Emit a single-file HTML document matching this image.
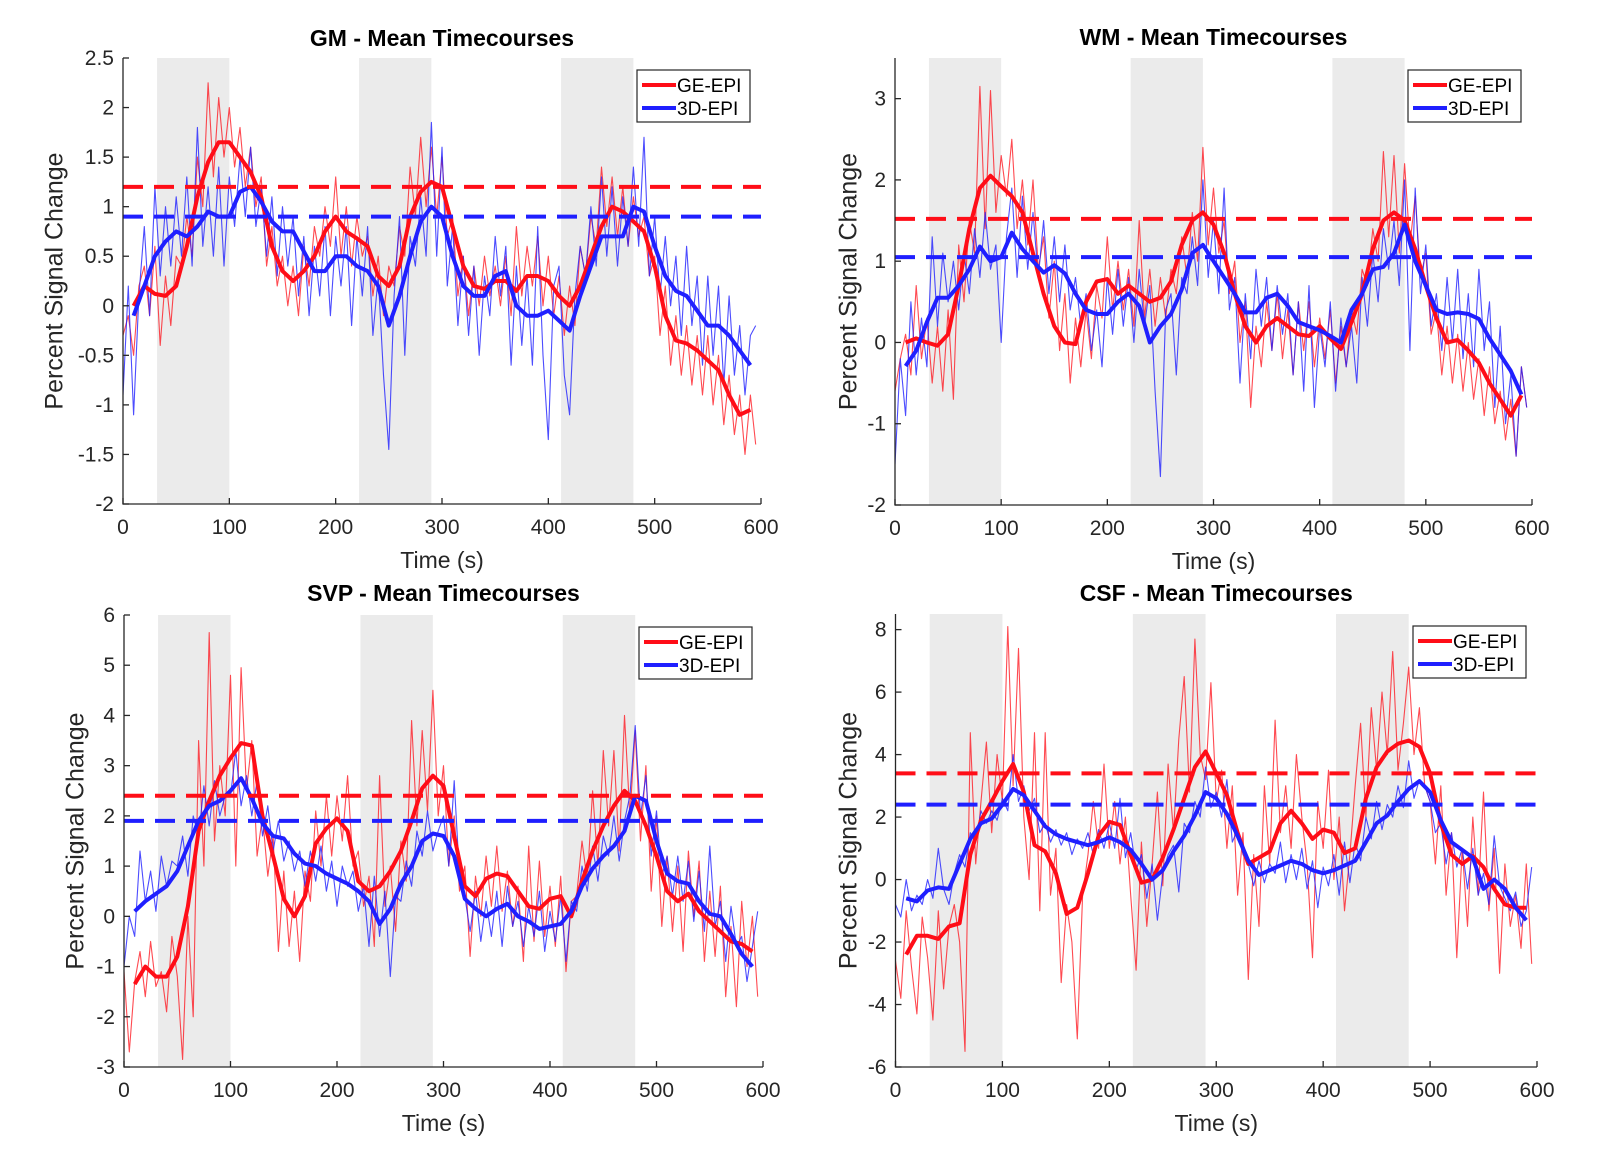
<!DOCTYPE html>
<html><head><meta charset="utf-8"><style>
html,body{margin:0;padding:0;background:#fff;}
svg{display:block;font-family:"Liberation Sans",sans-serif;}
</style></head><body>
<svg id="fig" width="1620" height="1153" viewBox="0 0 1620 1153" xmlns="http://www.w3.org/2000/svg"></svg>
<script>
// ---- shared time axes ----
const thickTimes = [10,20,30,40,50,60,70,80,90,100,110,120,130,140,150,160,170,180,190,200,210,220,230,240,250,260,270,280,290,300,310,320,330,340,350,360,370,380,390,400,410,420,430,440,450,460,470,480,490,500,510,520,530,540,550,560,570,580,590];
const xTickLabels = [0,100,200,300,400,500,600];
const blockStarts = [32,222,412];
const blockEnds = [100,290,480];

// ---- GM ----
const gmRedThin = [-0.3,-0.1,-0.5,0.2,0.4,-0.1,0.6,-0.4,0.3,-0.2,0.5,0.4,0.9,0.5,1.5,1.0,2.25,1.3,2.1,1.5,2.0,1.4,1.8,1.2,1.6,1.0,1.3,0.4,0.8,0.2,0.5,0.0,0.4,-0.1,0.6,0.2,0.8,0.5,1.0,0.6,1.3,0.5,1.0,0.4,0.9,0.5,0.7,0.1,0.5,-0.1,0.4,0.2,0.8,0.5,1.4,0.9,1.7,1.0,1.6,0.9,1.5,0.7,0.9,0.1,0.5,-0.1,0.4,0.0,0.5,0.1,0.4,0.0,0.5,-0.1,0.8,0.1,0.6,0.2,0.7,0.0,0.5,-0.1,0.3,-0.3,0.2,-0.2,0.6,0.3,0.9,0.6,1.4,0.8,1.3,0.7,1.2,0.6,1.1,0.7,0.9,0.3,0.5,-0.3,0.2,-0.6,-0.1,-0.7,-0.2,-0.8,-0.3,-0.9,-0.3,-1.0,-0.5,-1.2,-0.7,-1.3,-0.9,-1.5,-0.9,-1.4];
const gmBlueThin = [-0.9,0.2,-1.1,0.1,0.8,-0.1,1.2,0.3,1.0,0.4,1.1,0.5,1.3,0.4,1.8,0.6,1.2,0.5,1.4,0.4,1.3,0.8,1.5,0.9,1.6,0.8,1.2,0.5,1.1,0.3,1.0,0.4,0.9,0.1,0.7,-0.1,0.6,0.1,0.8,-0.1,0.7,0.2,0.8,-0.2,0.7,0.1,0.8,-0.3,0.3,-0.7,-1.45,0.1,0.9,-0.5,0.7,0.4,1.1,0.5,1.85,0.5,1.6,0.2,0.8,-0.2,0.5,-0.3,0.4,-0.5,0.3,-0.1,0.7,0.1,0.6,-0.6,0.4,-0.4,0.3,-0.6,0.8,-0.5,-1.35,0.2,0.4,-0.7,-1.1,0.1,0.6,0.3,1.0,0.4,1.3,0.5,1.2,0.4,1.1,0.6,1.4,0.6,1.7,0.3,0.9,0.1,0.7,0.0,0.5,-0.3,0.6,-0.2,0.3,-0.6,0.3,-0.5,0.2,-0.8,0.1,-0.7,-0.2,-0.9,-0.3,-0.2];
const gmRedThick = [0.0,0.2,0.12,0.1,0.2,0.6,1.1,1.45,1.65,1.65,1.5,1.35,1.1,0.6,0.35,0.25,0.35,0.5,0.75,0.9,0.75,0.68,0.6,0.3,0.2,0.4,0.9,1.15,1.25,1.2,0.8,0.4,0.2,0.17,0.25,0.25,0.15,0.3,0.3,0.25,0.1,0.0,0.2,0.5,0.8,1.0,0.95,0.85,0.75,0.4,-0.1,-0.35,-0.38,-0.45,-0.55,-0.65,-0.9,-1.1,-1.05];
const gmBlueThick = [-0.1,0.2,0.5,0.65,0.75,0.7,0.8,0.95,0.9,0.9,1.15,1.2,1.05,0.85,0.75,0.75,0.55,0.35,0.35,0.5,0.5,0.4,0.35,0.2,-0.2,0.1,0.5,0.85,1.0,0.9,0.5,0.2,0.1,0.1,0.3,0.35,0.0,-0.1,-0.1,-0.05,-0.15,-0.25,0.1,0.4,0.7,0.7,0.7,1.0,0.95,0.6,0.3,0.15,0.1,-0.05,-0.2,-0.2,-0.3,-0.45,-0.6];
const gmYTicks = [-2,-1.5,-1,-0.5,0,0.5,1,1.5,2,2.5];
const gmMeans = [1.2,0.9];

// ---- WM ----
const wmRedThin = [-0.6,-0.2,0.1,-0.4,0.7,-0.2,0.3,-0.5,0.2,-0.6,0.4,-0.7,1.2,0.5,1.5,1.1,3.15,1.4,3.1,1.6,2.3,1.8,2.5,1.4,2.0,1.2,2.0,0.9,1.3,0.3,1.0,-0.1,0.6,-0.5,0.3,-0.3,0.4,-0.2,0.7,0.3,1.3,0.4,1.0,0.4,0.9,0.2,1.5,0.3,0.9,0.2,0.8,0.3,0.9,0.6,1.3,0.8,1.6,1.0,2.4,1.2,1.9,1.1,1.5,0.6,1.0,0.0,0.5,-0.8,0.2,-0.3,0.5,-0.1,0.6,-0.2,0.4,-0.4,0.5,-0.1,0.5,-0.3,0.3,-0.2,0.4,-0.5,0.2,-0.3,0.4,0.1,0.9,0.7,1.4,1.0,2.35,1.3,2.3,1.1,2.2,1.2,1.8,0.8,1.1,0.1,0.4,-0.4,0.2,-0.5,0.1,-0.6,0.0,-0.7,-0.2,-0.9,-0.3,-1.0,-0.6,-1.2,-0.7,-1.4,-0.3,-0.8];
const wmBlueThin = [-1.5,-0.2,-0.9,0.5,-0.4,0.3,-0.3,1.3,0.2,1.1,0.5,1.0,0.4,1.1,0.6,1.4,0.8,1.6,0.9,1.2,0.0,1.3,1.9,0.8,1.8,0.9,1.6,0.8,1.5,0.6,1.3,0.5,1.2,0.4,0.8,0.2,0.6,-0.1,0.4,-0.3,0.8,0.1,0.9,0.2,0.8,0.0,0.9,0.2,0.7,-0.6,-1.65,0.4,0.6,-0.4,0.8,0.6,1.3,0.7,2.0,0.8,1.5,0.6,1.9,0.4,0.8,-0.5,0.6,-0.2,0.9,0.2,0.8,-0.1,0.7,0.1,0.6,-0.4,0.5,-0.6,0.7,-0.8,0.2,-0.3,0.5,-0.6,0.3,-0.3,0.2,-0.5,0.8,0.2,1.1,0.5,1.4,0.9,1.5,0.7,2.0,-0.1,1.9,0.6,1.2,0.2,0.6,-0.1,0.8,0.0,0.9,-0.2,0.6,-0.3,0.9,-0.1,0.5,-0.8,0.2,-1.0,-0.4,-1.4,-0.3,-0.8];
const wmRedThick = [0.0,0.05,0.0,-0.04,0.1,0.7,1.4,1.9,2.05,1.92,1.8,1.6,1.1,0.6,0.2,0.0,-0.02,0.5,0.75,0.78,0.6,0.7,0.6,0.5,0.55,0.75,1.2,1.5,1.6,1.45,1.1,0.6,0.2,0.0,0.2,0.3,0.2,0.1,0.08,0.2,0.05,-0.08,0.25,0.6,1.15,1.5,1.6,1.5,1.15,0.7,0.3,0.0,0.03,-0.1,-0.25,-0.5,-0.7,-0.9,-0.65];
const wmBlueThick = [-0.29,-0.1,0.25,0.55,0.55,0.7,0.9,1.18,1.0,1.05,1.35,1.15,1.0,0.86,0.95,0.85,0.6,0.4,0.35,0.35,0.5,0.6,0.45,0.0,0.2,0.35,0.65,1.1,1.2,1.0,0.8,0.6,0.37,0.37,0.55,0.6,0.45,0.25,0.2,0.15,0.08,0.0,0.4,0.6,0.9,0.93,1.1,1.45,1.0,0.7,0.4,0.35,0.37,0.35,0.29,0.05,-0.15,-0.35,-0.64];
const wmYTicks = [-2,-1,0,1,2,3];
const wmMeans = [1.52,1.05];

// ---- SVP ----
const svpRedThin = [-1.1,-2.7,-1.3,-0.7,-1.6,-0.5,-1.4,-1.1,-1.9,-0.4,-1.2,-2.85,0.0,-2.0,3.5,1.0,5.65,1.5,3.0,2.0,4.8,1.0,4.95,2.5,3.5,1.2,2.0,0.8,1.6,-0.7,0.9,-0.6,0.5,-0.9,0.9,0.3,2.1,1.0,2.4,1.2,2.4,1.5,2.8,1.0,1.3,0.2,0.8,-0.6,2.8,0.2,1.0,-0.3,1.5,0.7,3.9,1.8,3.7,2.1,4.5,2.0,3.0,1.0,2.0,0.5,1.0,-0.8,0.8,0.0,1.2,0.2,1.4,0.1,0.9,-0.2,0.6,-0.9,1.4,-0.5,1.1,-0.4,0.6,-0.6,0.8,-1.1,0.3,0.4,1.5,0.7,2.5,1.0,3.3,1.8,3.3,1.3,4.0,2.0,3.7,1.5,3.0,0.5,2.0,-0.2,1.2,-0.3,1.0,-0.7,1.3,0.0,1.1,-0.9,0.5,-0.8,0.6,-1.6,-0.2,-1.8,0.3,-1.0,0.0,-1.6];
const svpBlueThin = [-1.0,0.0,-0.4,1.3,0.3,0.9,0.1,1.2,0.6,1.1,1.0,1.6,0.8,2.0,1.6,2.6,1.8,2.7,2.0,2.4,2.4,3.3,2.2,2.8,2.0,2.7,1.6,2.2,1.3,1.9,1.1,1.5,0.9,1.3,0.6,1.3,0.7,1.4,0.5,1.1,0.2,1.0,0.6,0.9,0.1,0.6,-0.6,0.8,-0.4,0.5,-1.2,0.4,0.3,1.1,0.6,1.7,1.2,2.1,1.3,1.7,2.0,1.0,2.7,0.8,0.4,-0.3,0.5,-0.5,0.3,-0.4,0.5,-0.6,0.6,-0.2,0.3,-0.6,0.2,-0.4,0.5,-0.7,0.1,-0.5,0.4,-0.9,0.3,0.1,1.0,0.5,1.4,0.7,1.6,1.2,2.0,1.1,1.9,2.4,3.8,2.0,2.8,1.2,2.1,0.8,1.2,0.4,1.2,0.3,1.1,-0.1,0.9,-0.3,1.4,-0.2,0.3,-0.9,0.2,-0.6,-0.4,-1.3,-0.6,0.1];
const svpRedThick = [-1.35,-1.0,-1.2,-1.2,-0.8,0.2,1.7,2.3,2.8,3.15,3.45,3.4,2.0,1.2,0.35,0.0,0.4,1.45,1.75,1.95,1.7,0.7,0.5,0.6,0.9,1.3,1.9,2.55,2.8,2.6,1.6,0.6,0.4,0.75,0.85,0.8,0.5,0.2,0.15,0.35,0.4,0.0,0.7,1.3,1.8,2.2,2.5,2.3,1.8,1.2,0.5,0.3,0.45,0.1,-0.1,-0.3,-0.5,-0.55,-0.7];
const svpBlueThick = [0.1,0.3,0.45,0.6,0.9,1.4,1.9,2.2,2.3,2.5,2.75,2.35,1.85,1.6,1.55,1.25,1.05,1.0,0.85,0.75,0.65,0.5,0.3,-0.15,0.15,0.65,1.0,1.5,1.65,1.6,1.2,0.35,0.15,0.0,0.15,0.25,0.0,-0.1,-0.25,-0.2,-0.15,0.1,0.6,0.95,1.2,1.4,1.7,2.4,2.3,1.5,0.85,0.7,0.65,0.3,0.05,0.0,-0.35,-0.75,-1.0];
const svpYTicks = [-3,-2,-1,0,1,2,3,4,5,6];
const svpMeans = [2.4,1.9];

// ---- CSF ----
const csfRedThin = [-2.6,-3.8,-1.0,-2.8,-4.3,-1.2,-2.5,-4.5,-1.0,-3.5,-1.5,-0.8,-2.0,-5.5,4.7,0.5,2.5,4.4,1.5,4.0,2.5,8.1,3.0,7.4,2.0,0.0,4.7,-1.0,4.7,-0.5,1.0,-3.3,-0.8,-2.0,-5.1,-0.5,0.8,2.5,1.0,3.7,1.0,2.5,0.5,2.0,-0.5,-2.9,1.2,-1.5,0.5,2.8,-0.2,3.7,1.5,4.5,6.5,2.8,7.7,4.0,3.2,6.3,2.5,3.5,1.0,3.0,-0.5,1.5,-3.2,0.8,-1.5,3.0,0.5,5.1,1.5,3.0,1.0,4.0,2.0,0.5,-2.5,2.5,1.0,3.5,0.0,2.0,-1.0,0.8,3.0,5.0,2.0,5.5,3.5,6.0,4.0,7.3,3.5,5.0,6.8,4.0,5.5,3.0,2.5,0.5,3.0,-0.5,1.5,-2.5,1.0,-1.5,2.0,-0.5,2.8,-1.0,1.0,-3.0,0.5,-1.5,-0.5,-2.2,0.5,-2.7];
const csfBlueThin = [-0.8,-1.2,0.0,-1.0,-0.5,-0.8,0.0,-0.6,1.0,-0.3,-0.8,0.2,0.8,0.4,1.5,1.2,2.2,1.8,2.2,1.9,2.6,2.2,4.0,2.5,3.0,2.2,2.6,1.5,1.8,1.2,1.6,1.1,1.5,0.8,1.3,1.0,1.5,0.8,1.6,1.0,1.8,1.0,2.6,0.7,1.5,0.3,0.8,-0.6,0.5,-1.3,0.2,0.8,1.1,-0.4,1.8,1.5,2.5,2.0,3.6,2.3,2.8,2.0,3.2,1.2,1.6,0.8,0.5,-0.2,0.6,-0.1,0.5,0.2,1.2,-0.1,0.8,0.0,1.0,-0.3,0.6,-0.9,0.4,-0.2,0.8,-0.5,1.2,-0.1,1.2,0.6,2.0,1.3,2.5,1.6,2.4,2.0,3.0,2.3,3.8,2.6,3.2,3.0,2.5,1.5,1.8,0.5,1.5,0.4,1.0,-0.3,1.0,-0.5,0.2,-0.8,1.4,-0.2,-0.6,-1.0,-0.4,-1.5,-1.0,0.4];
const csfRedThick = [-2.4,-1.8,-1.8,-1.9,-1.5,-1.4,0.8,1.9,2.5,3.15,3.7,2.8,1.1,0.9,0.2,-1.1,-0.9,0.2,1.4,1.85,1.75,0.8,-0.1,0.0,0.7,1.6,2.6,3.6,4.1,3.4,2.7,1.5,0.5,0.7,0.9,1.8,2.2,1.8,1.3,1.6,1.5,0.85,1.0,2.6,3.6,4.1,4.35,4.45,4.25,3.4,1.8,0.8,0.5,0.75,0.4,-0.3,-0.8,-0.9,-0.9];
const csfBlueThick = [-0.6,-0.7,-0.35,-0.25,-0.3,0.5,1.3,1.8,1.95,2.4,2.9,2.7,2.2,1.7,1.45,1.3,1.2,1.1,1.2,1.35,1.2,0.95,0.5,0.0,0.3,0.9,1.4,2.05,2.8,2.6,2.1,1.4,0.6,0.15,0.3,0.45,0.6,0.5,0.3,0.2,0.3,0.45,0.6,1.2,1.8,2.05,2.5,2.9,3.15,2.8,1.9,1.2,0.95,0.7,-0.3,0.0,-0.3,-0.9,-1.3];
const csfYTicks = [-6,-4,-2,0,2,4,6,8];
const csfMeans = [3.4,2.4];

const RED = '#ff0d17', BLUE = '#1f1fff';
const NS = 'http://www.w3.org/2000/svg';
const svg = document.getElementById('fig');
function mk(tag, attrs, parent){ const e=document.createElementNS(NS,tag); for(const k in attrs) e.setAttribute(k,attrs[k]); (parent||svg).appendChild(e); return e; }

const panels = [
 {key:'gm', title:'GM - Mean Timecourses', x0:123, x1:761, yTop:58, yBot:504, ymin:-2, ymax:2.5, yticks:gmYTicks, rt:gmRedThin, bt:gmBlueThin, rk:gmRedThick, bk:gmBlueThick, means:gmMeans, titleY:46, ylabX:56},
 {key:'wm', title:'WM - Mean Timecourses', x0:895, x1:1532, yTop:58, yBot:505, ymin:-2, ymax:3.5, yticks:wmYTicks, rt:wmRedThin, bt:wmBlueThin, rk:wmRedThick, bk:wmBlueThick, means:wmMeans, titleY:45, ylabX:850},
 {key:'svp', title:'SVP - Mean Timecourses', x0:124, x1:763, yTop:615, yBot:1067, ymin:-3, ymax:6, yticks:svpYTicks, rt:svpRedThin, bt:svpBlueThin, rk:svpRedThick, bk:svpBlueThick, means:svpMeans, titleY:601, ylabX:77},
 {key:'csf', title:'CSF - Mean Timecourses', x0:895.5, x1:1537, yTop:614, yBot:1067, ymin:-6, ymax:8.5, yticks:csfYTicks, rt:csfRedThin, bt:csfBlueThin, rk:csfRedThick, bk:csfBlueThick, means:csfMeans, titleY:601, ylabX:850}
];

panels.forEach(p=>{
  const g = mk('g',{});
  
  
  const xs = t => p.x0 + (t/600)*(p.x1-p.x0);
  const ys = v => p.yBot - (v-p.ymin)/(p.ymax-p.ymin)*(p.yBot-p.yTop);
  const clipId = 'clip-'+p.key;
  const cp = mk('clipPath',{id:clipId},g);
  mk('rect',{x:p.x0,y:p.yTop,width:p.x1-p.x0+8,height:p.yBot-p.yTop},cp);
  blockStarts.forEach((s,i)=>{
    const r = mk('rect',{x:xs(s),y:p.yTop,width:xs(blockEnds[i])-xs(s),height:p.yBot-p.yTop,fill:'#ebebeb'},g);
    
    
  });
  const plot = mk('g',{'clip-path':'url(#'+clipId+')'},g);
  const thinPath = arr => arr.map((v,i)=>(i?'L':'M')+xs(i*5).toFixed(1)+','+ys(v).toFixed(1)).join('');
  const thickPath = arr => arr.map((v,i)=>(i?'L':'M')+xs(thickTimes[i]).toFixed(1)+','+ys(v).toFixed(1)).join('');
  let e;
  e = mk('path',{d:thinPath(p.rt),fill:'none',stroke:RED,'stroke-width':1.1,'stroke-opacity':0.75,'stroke-linejoin':'round'},plot);
  
  
  e = mk('path',{d:thinPath(p.bt),fill:'none',stroke:BLUE,'stroke-width':1.1,'stroke-opacity':0.8,'stroke-linejoin':'round'},plot);
  
  
  e = mk('path',{d:thickPath(p.rk),fill:'none',stroke:RED,'stroke-width':4,'stroke-linejoin':'round'},plot);
  
  
  e = mk('path',{d:thickPath(p.bk),fill:'none',stroke:BLUE,'stroke-width':4,'stroke-linejoin':'round'},plot);
  
  
  e = mk('line',{x1:p.x0,x2:p.x1,y1:ys(p.means[0]),y2:ys(p.means[0]),stroke:RED,'stroke-width':4,'stroke-dasharray':'20 11'},g);
  
  
  e = mk('line',{x1:p.x0,x2:p.x1,y1:ys(p.means[1]),y2:ys(p.means[1]),stroke:BLUE,'stroke-width':4,'stroke-dasharray':'20 11'},g);
  
  
  e = mk('path',{d:`M${p.x0},${p.yTop}V${p.yBot}H${p.x1}`,fill:'none',stroke:'#262626','stroke-width':1.3},g);
  
  
  xTickLabels.forEach(t=>{
    mk('line',{x1:xs(t),x2:xs(t),y1:p.yBot,y2:p.yBot-6,stroke:'#262626','stroke-width':1.3},g);
    const tx = mk('text',{x:xs(t),y:p.yBot+30,'text-anchor':'middle','font-size':21,fill:'#262626'},g);
    tx.textContent = t;
    
    
  });
  p.yticks.forEach(v=>{
    mk('line',{x1:p.x0,x2:p.x0+6,y1:ys(v),y2:ys(v),stroke:'#262626','stroke-width':1.3},g);
    const tx = mk('text',{x:p.x0-9,y:ys(v)+7,'text-anchor':'end','font-size':21,fill:'#262626'},g);
    tx.textContent = String(v);
    
    
  });
  e = mk('text',{x:(p.x0+p.x1)/2,y:p.yBot+64,'text-anchor':'middle','font-size':23,fill:'#262626'},g);
  e.textContent = 'Time (s)';
  
  
  const ym = (p.yTop+p.yBot)/2;
  e = mk('text',{x:p.ylabX,y:ym,'text-anchor':'middle','font-size':25,fill:'#262626',transform:`rotate(-90 ${p.ylabX} ${ym})`,'dominant-baseline':'middle'},g);
  e.textContent = 'Percent Signal Change';
  
  
  e = mk('text',{x:(p.x0+p.x1)/2,y:p.titleY,'text-anchor':'middle','font-size':23,'font-weight':'bold',fill:'#000'},g);
  e.textContent = p.title;
  
  
  const lx = p.x1-124, ly = p.yTop+12;
  const lg = mk('g',{},g);
  
  
  mk('rect',{x:lx,y:ly,width:113,height:52,fill:'#fff',stroke:'#262626','stroke-width':1.2},lg);
  mk('line',{x1:lx+5,x2:lx+39,y1:ly+15,y2:ly+15,stroke:RED,'stroke-width':4},lg);
  mk('line',{x1:lx+5,x2:lx+39,y1:ly+38,y2:ly+38,stroke:BLUE,'stroke-width':4},lg);
  e = mk('text',{x:lx+40,y:ly+22,'font-size':19,fill:'#000'},lg);
  e.textContent = 'GE-EPI';
  
  
  e = mk('text',{x:lx+40,y:ly+45,'font-size':19,fill:'#000'},lg);
  e.textContent = '3D-EPI';
  
  
});
</script>
</body></html>
